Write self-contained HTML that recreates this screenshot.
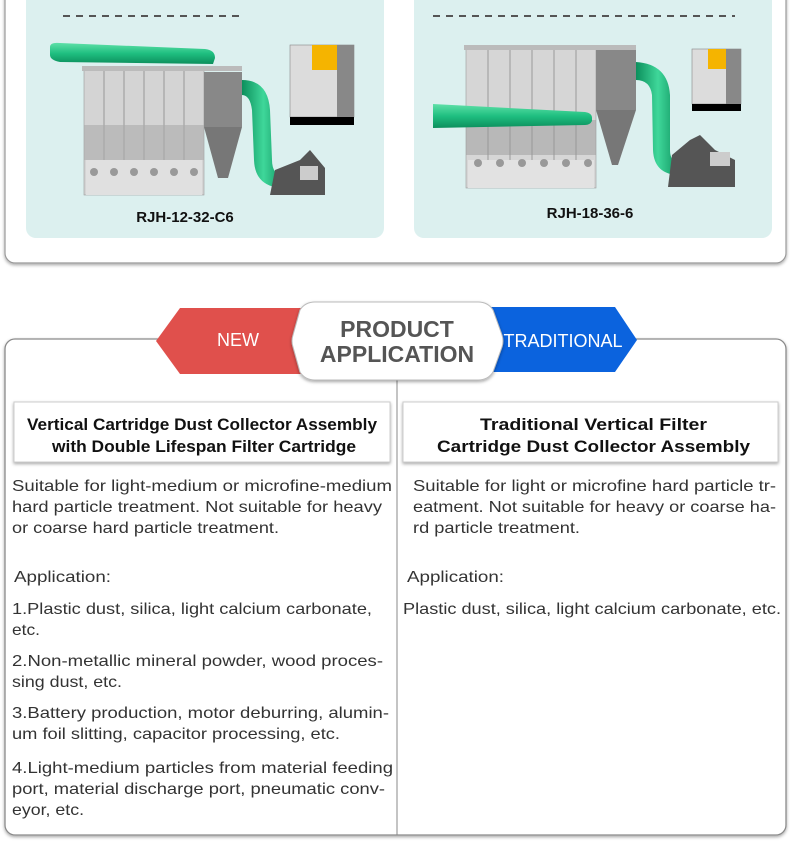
<!DOCTYPE html>
<html><head><meta charset="utf-8"><style>
html,body{margin:0;padding:0;background:#fff;}
svg{display:block;font-family:"Liberation Sans",sans-serif;}
</style></head><body>
<svg width="790" height="855" viewBox="0 0 790 855" xmlns="http://www.w3.org/2000/svg">
<defs>
<filter id="sh" x="-5%" y="-5%" width="110%" height="120%"><feDropShadow dx="0" dy="1.5" stdDeviation="1.5" flood-color="#000" flood-opacity="0.35"/></filter>
<linearGradient id="gp" x1="0" y1="0" x2="0" y2="1"><stop offset="0" stop-color="#5fe0a8"/><stop offset="0.5" stop-color="#1fbf80"/><stop offset="1" stop-color="#0c8f5c"/></linearGradient>
<linearGradient id="gv" x1="0" y1="0" x2="1" y2="0"><stop offset="0" stop-color="#0c8f5c"/><stop offset="0.5" stop-color="#3fd79a"/><stop offset="1" stop-color="#0c8f5c"/></linearGradient>
</defs>
<!-- top panel -->
<rect x="5" y="-20" width="781" height="283" rx="10" fill="#fff" stroke="#999" stroke-width="1.2" filter="url(#sh)"/>
<rect x="26" y="-10" width="358" height="248" rx="10" fill="#dcf0ef"/>
<rect x="414" y="-10" width="358" height="248" rx="10" fill="#dcf0ef"/>
<line x1="63" y1="16" x2="240" y2="16" stroke="#555" stroke-width="2" stroke-dasharray="7,6"/>
<line x1="433" y1="16" x2="735" y2="16" stroke="#555" stroke-width="2" stroke-dasharray="7,6"/>

<!-- left machine -->
<g>
<rect x="84" y="68" width="120" height="127" fill="#d4d4d4" stroke="#999" stroke-width="0.6"/>
<g stroke="#999" stroke-width="1"><line x1="104" y1="68" x2="104" y2="195"/><line x1="124" y1="68" x2="124" y2="195"/><line x1="144" y1="68" x2="144" y2="195"/><line x1="164" y1="68" x2="164" y2="195"/><line x1="184" y1="68" x2="184" y2="195"/></g>
<rect x="84" y="125" width="120" height="35" fill="#aaa" opacity="0.6"/>
<rect x="86" y="160" width="116" height="35" fill="#e0e0e0"/>
<g fill="#999"><circle cx="94" cy="172" r="4"/><circle cx="114" cy="172" r="4"/><circle cx="134" cy="172" r="4"/><circle cx="154" cy="172" r="4"/><circle cx="174" cy="172" r="4"/><circle cx="194" cy="172" r="4"/></g>
<rect x="204" y="72" width="38" height="55" fill="#888"/>
<polygon points="204,127 242,127 228,178 218,178" fill="#777"/>
<rect x="82" y="66" width="160" height="5" fill="#bbb"/>
<path d="M50 47 Q50 42 60 43 L205 49 Q215 50 215 58 L213 64 L60 62 Q50 60 50 55 Z" fill="url(#gp)"/>
<path d="M242 80 Q268 80 270 110 L272 160 Q272 175 285 178 L285 188 Q255 188 254 160 L252 110 Q250 95 242 95 Z" fill="url(#gv)"/>
<polygon points="275,170 300,160 310,150 325,168 325,195 270,195" fill="#555"/>
<rect x="300" y="166" width="18" height="14" fill="#ccc"/>
<rect x="290" y="45" width="64" height="72" fill="#dcdcdc" stroke="#888" stroke-width="0.6"/>
<rect x="312" y="45" width="25" height="25" fill="#f5b400"/>
<rect x="337" y="45" width="17" height="72" fill="#888"/>
<rect x="290" y="117" width="64" height="8" fill="#000"/>
</g>
<text x="185" y="222" font-size="15" font-weight="bold" fill="#111" text-anchor="middle">RJH-12-32-C6</text>

<!-- right machine -->
<g>
<rect x="466" y="48" width="130" height="140" fill="#d6d6d6" stroke="#999" stroke-width="0.6"/>
<g stroke="#999" stroke-width="1"><line x1="488" y1="48" x2="488" y2="188"/><line x1="510" y1="48" x2="510" y2="188"/><line x1="532" y1="48" x2="532" y2="188"/><line x1="554" y1="48" x2="554" y2="188"/><line x1="576" y1="48" x2="576" y2="188"/></g>
<rect x="466" y="120" width="130" height="35" fill="#999" opacity="0.5"/>
<rect x="468" y="160" width="126" height="28" fill="#e2e2e2"/>
<g fill="#999"><circle cx="478" cy="163" r="4"/><circle cx="500" cy="163" r="4"/><circle cx="522" cy="163" r="4"/><circle cx="544" cy="163" r="4"/><circle cx="566" cy="163" r="4"/><circle cx="588" cy="163" r="4"/></g>
<rect x="596" y="50" width="40" height="60" fill="#888"/>
<polygon points="596,110 636,110 618,165 612,165" fill="#777"/>
<rect x="464" y="45" width="172" height="5" fill="#bbb"/>
<path d="M433 104 L585 112 Q592 113 592 118 L592 121 Q590 125 585 125 L433 128 Z" fill="url(#gp)"/>
<path d="M636 62 Q668 64 670 95 L670 150 Q670 162 680 165 L680 175 Q654 175 653 150 L652 95 Q650 80 636 80 Z" fill="url(#gv)"/>
<polygon points="672,155 690,140 700,135 715,150 735,160 735,187 668,187" fill="#555"/>
<rect x="710" y="152" width="20" height="14" fill="#ccc"/>
<rect x="692" y="49" width="49" height="55" fill="#dcdcdc" stroke="#888" stroke-width="0.6"/>
<rect x="708" y="49" width="18" height="20" fill="#f5b400"/>
<rect x="726" y="49" width="15" height="55" fill="#888"/>
<rect x="692" y="104" width="49" height="7" fill="#000"/>
</g>
<text x="590" y="218" font-size="15" font-weight="bold" fill="#111" text-anchor="middle">RJH-18-36-6</text>

<!-- lower panel -->
<rect x="5" y="339" width="781" height="496" rx="10" fill="#fff" stroke="#8a8a8a" stroke-width="1.3" filter="url(#sh)"/>
<line x1="397" y1="378" x2="397" y2="835" stroke="#888" stroke-width="1"/>

<!-- banner -->
<polygon points="156,341 180,308 320,308 320,374 180,374" fill="#e0504c"/>
<polygon points="470,307 615,307 637,340 615,372 470,372" fill="#0b63de"/>
<path d="M315 302 L478 302 Q488 302 493 310 L502 335 Q504 341 502 347 L493 372 Q488 380 478 380 L315 380 Q305 380 300 372 L293 347 Q291 341 293 335 L300 310 Q305 302 315 302 Z" fill="#fff" stroke="#bbb" stroke-width="1" filter="url(#sh)"/>
<text x="238" y="346" font-size="18" fill="#fff" text-anchor="middle">NEW</text>
<text x="563" y="347" font-size="18" fill="#fff" text-anchor="middle">TRADITIONAL</text>
<text x="397" y="337" font-size="23" font-weight="bold" fill="#555" text-anchor="middle">PRODUCT</text>
<text x="397" y="362" font-size="23" font-weight="bold" fill="#555" text-anchor="middle">APPLICATION</text>

<!-- headers -->
<rect x="14" y="402" width="376" height="60" fill="#fff" stroke="#ccc" stroke-width="1" filter="url(#sh)"/>
<rect x="403" y="402" width="375" height="60" fill="#fff" stroke="#ccc" stroke-width="1" filter="url(#sh)"/>
<g font-size="17" font-weight="bold" fill="#111">
<text x="27" y="430" textLength="350" lengthAdjust="spacingAndGlyphs">Vertical Cartridge Dust Collector Assembly</text>
<text x="52" y="452" textLength="304" lengthAdjust="spacingAndGlyphs">with Double Lifespan Filter Cartridge</text>
<text x="480" y="430" textLength="227" lengthAdjust="spacingAndGlyphs">Traditional Vertical Filter</text>
<text x="437" y="452" textLength="313" lengthAdjust="spacingAndGlyphs">Cartridge Dust Collector Assembly</text>
</g>

<g font-size="16" fill="#333">
<text x="12" y="491" textLength="380" lengthAdjust="spacingAndGlyphs">Suitable for light-medium or microfine-medium</text>
<text x="12" y="512" textLength="370" lengthAdjust="spacingAndGlyphs">hard particle treatment. Not suitable for heavy</text>
<text x="12" y="533" textLength="267" lengthAdjust="spacingAndGlyphs">or coarse hard particle treatment.</text>
<text x="14" y="582" textLength="97" lengthAdjust="spacingAndGlyphs">Application:</text>
<text x="12" y="614" textLength="360" lengthAdjust="spacingAndGlyphs">1.Plastic dust, silica, light calcium carbonate,</text>
<text x="12" y="635" textLength="28" lengthAdjust="spacingAndGlyphs">etc.</text>
<text x="12" y="666" textLength="371" lengthAdjust="spacingAndGlyphs">2.Non-metallic mineral powder, wood proces-</text>
<text x="12" y="687" textLength="110" lengthAdjust="spacingAndGlyphs">sing dust, etc.</text>
<text x="12" y="718" textLength="377" lengthAdjust="spacingAndGlyphs">3.Battery production, motor deburring, alumin-</text>
<text x="12" y="739" textLength="328" lengthAdjust="spacingAndGlyphs">um foil slitting, capacitor processing, etc.</text>
<text x="12" y="773" textLength="381" lengthAdjust="spacingAndGlyphs">4.Light-medium particles from material feeding</text>
<text x="12" y="794" textLength="373" lengthAdjust="spacingAndGlyphs">port, material discharge port, pneumatic conv-</text>
<text x="12" y="815" textLength="72" lengthAdjust="spacingAndGlyphs">eyor, etc.</text>

<text x="413" y="491" textLength="363" lengthAdjust="spacingAndGlyphs">Suitable for light or microfine hard particle tr-</text>
<text x="413" y="512" textLength="363" lengthAdjust="spacingAndGlyphs">eatment. Not suitable for heavy or coarse ha-</text>
<text x="413" y="533" textLength="167" lengthAdjust="spacingAndGlyphs">rd particle treatment.</text>
<text x="407" y="582" textLength="97" lengthAdjust="spacingAndGlyphs">Application:</text>
<text x="403" y="614" textLength="378" lengthAdjust="spacingAndGlyphs">Plastic dust, silica, light calcium carbonate, etc.</text>
</g>
</svg>
</body></html>
